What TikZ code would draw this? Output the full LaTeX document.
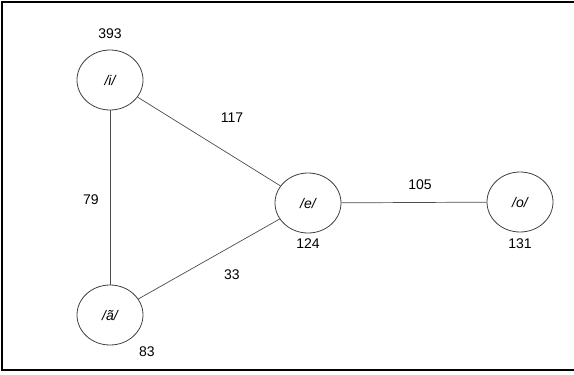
\documentclass[tikz,border=0pt]{standalone}
\usepackage{fontspec}
\usetikzlibrary{shapes.geometric}
\setmainfont{Liberation Sans}
\begin{document}
\begin{tikzpicture}[x=1pt,y=-1pt,
  vowel/.style={draw=black!75, line width=0.8pt, ellipse, minimum width=66pt, minimum height=60pt, inner sep=0pt, font=\fontsize{14}{16}\selectfont\itshape},
  num/.style={font=\fontsize{14}{16}\selectfont, inner sep=0pt},
  edge/.style={draw=black!70, line width=0.7pt}]
\useasboundingbox (0,0) rectangle (574,375);
\draw[line width=2pt] (574,1.5) -- (1.5,1.5) -- (1.5,370) -- (574,370);
\node[vowel] (i) at (110,80) {/i/};
\node[vowel] (a) at (110,315) {/ã/};
\node[vowel] (e) at (308,203) {/e/};
\node[vowel] (o) at (520,202) {/o/};
\draw[edge] (i) -- (a);
\draw[edge] (i) -- (e);
\draw[edge] (a) -- (e);
\draw[edge] (e) -- (o);
\node[num] (n393) at (110,34) {393};
\node[num] (n83) at (147,352) {83};
\node[num] (n124) at (308,244) {124};
\node[num] (n131) at (520,244) {131};
\node[num] (n117) at (232,118) {117};
\node[num] (n79) at (91,200) {79};
\node[num] (n33) at (232,275) {33};
\node[num] (n105) at (420,185) {105};
\end{tikzpicture}
\end{document}
